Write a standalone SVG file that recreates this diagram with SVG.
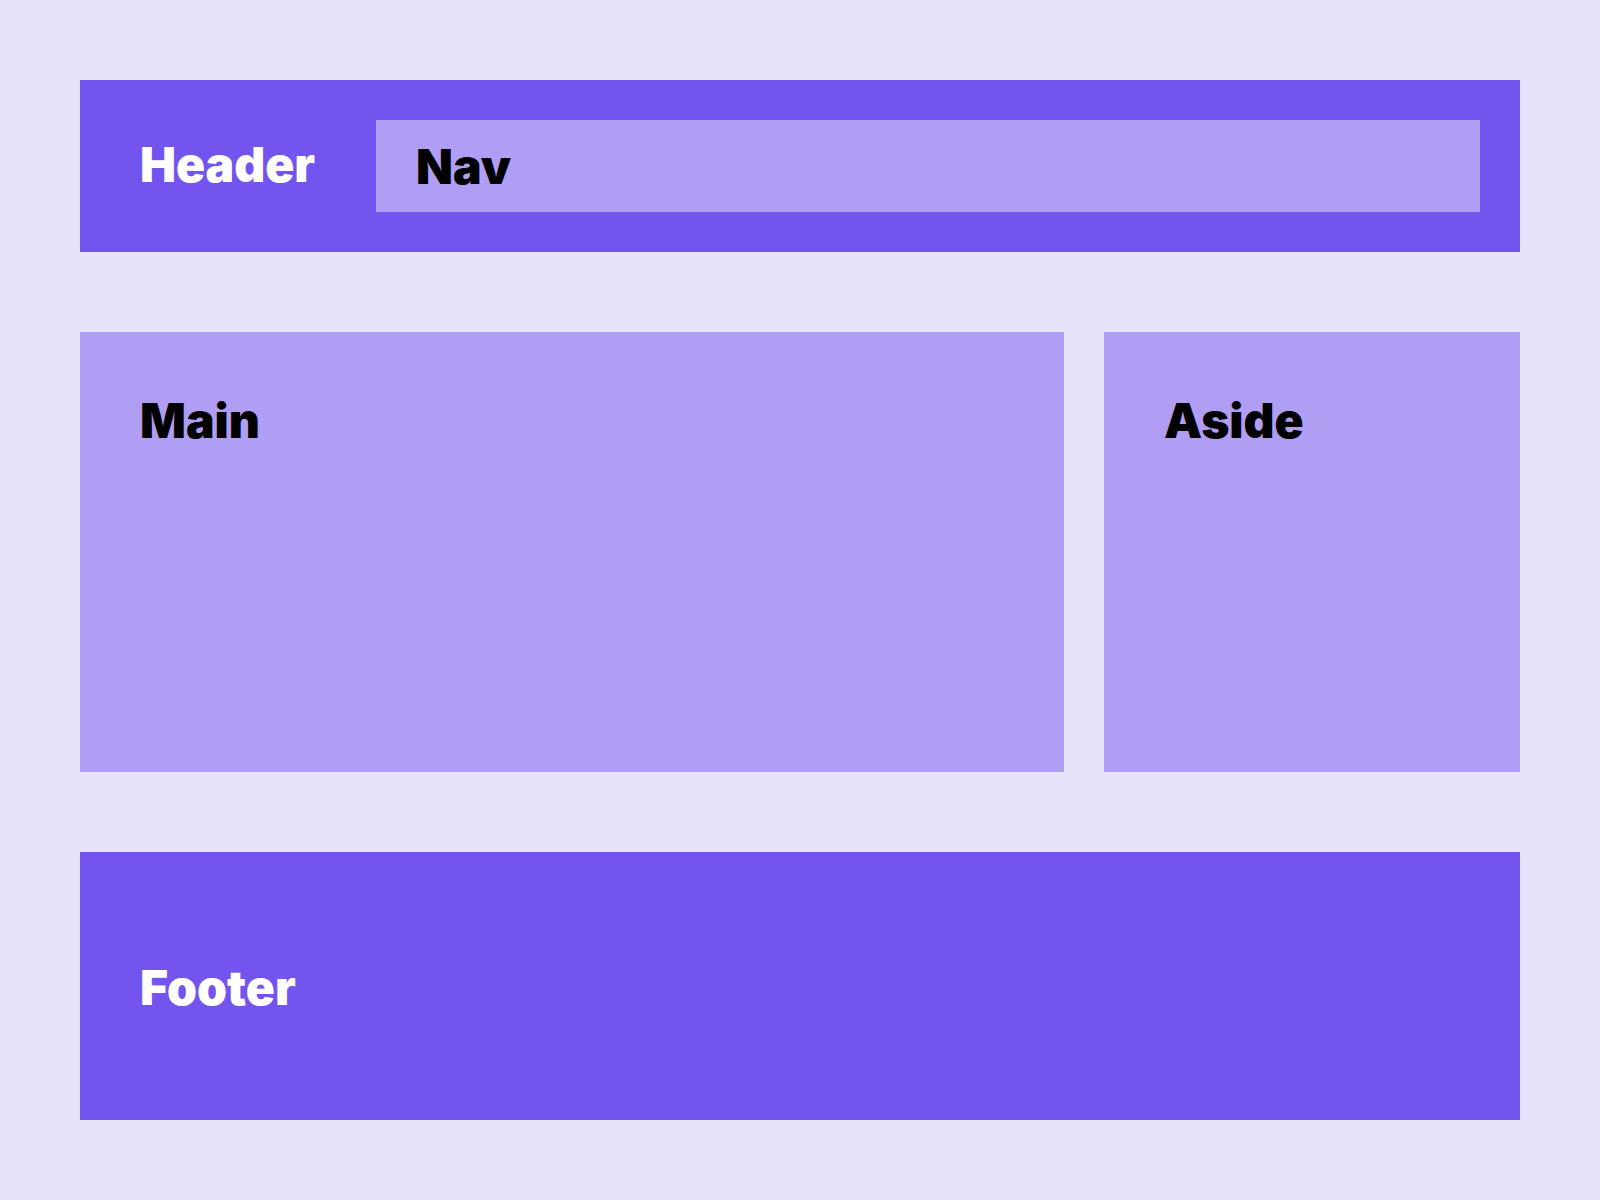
<svg xmlns="http://www.w3.org/2000/svg" width="1600" height="1200" viewBox="0 0 1600 1200">
<style>
.dark{fill:#7354ee}
.light{fill:#b09ef5}
.lbl{font-family:Inter,"Liberation Sans",sans-serif;font-size:48px;font-weight:900}
.w{fill:#ffffff}
.k{fill:#000000}
</style>
<rect width="1600" height="1200" fill="#e6e3fb"/>
<g id="header">
<rect class="dark" x="80" y="80" width="1440" height="172"/>
<text class="lbl w" x="140" y="182">Header</text>
</g>
<g id="nav">
<rect class="light" x="376" y="120" width="1104" height="92"/>
<text class="lbl k" x="416" y="184">Nav</text>
</g>
<g id="main">
<rect class="light" x="80" y="332" width="984" height="440"/>
<text class="lbl k" x="140" y="438">Main</text>
</g>
<g id="aside">
<rect class="light" x="1104" y="332" width="416" height="440"/>
<text class="lbl k" x="1164" y="438">Aside</text>
</g>
<g id="footer">
<rect class="dark" x="80" y="852" width="1440" height="268"/>
<text class="lbl w" x="140" y="1005">Footer</text>
</g>
<g id="connectors"/>
</svg>
